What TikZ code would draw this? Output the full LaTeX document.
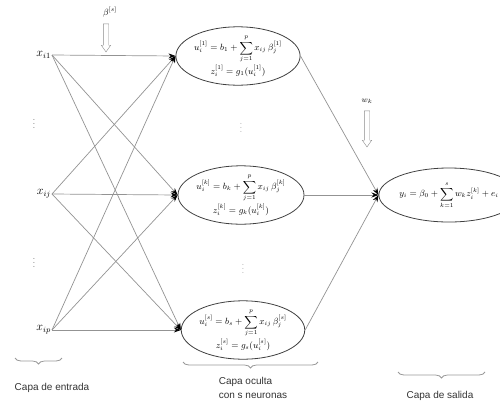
\documentclass[tikz,border=0pt]{standalone}
\usepackage{amsmath}
\usepackage{fontspec}
\newfontfamily\labelfont{Liberation Sans}
\usetikzlibrary{arrows.meta, shapes.geometric, shapes.arrows, decorations.pathreplacing}

\begin{document}
\begin{tikzpicture}[x=1pt, y=-1pt,
	neuron/.style={ellipse, draw=black!75, thick, minimum width=100pt, minimum height=56pt, inner sep=0pt, align=center, font=\small},
	inputlab/.style={anchor=east, inner sep=1pt, font=\large},
	link/.style={gray!85, line width=0.7pt},
	feed/.style={link, -{Stealth[black, length=7pt, width=5pt]}},
	weightarr/.style={single arrow, draw=gray!90, fill=white, shape border rotate=270, single arrow head extend=2pt, single arrow tip angle=70, inner sep=2.5pt, minimum width=9pt},
	layerbrace/.style={decorate, decoration={brace, mirror, amplitude=6pt}, gray!80, thick},
	layerlab/.style={font=\labelfont\fontsize{10}{14}\selectfont, text=black!80}]
		\useasboundingbox (0,0) rectangle (500,402);
		%-------------------------------------------------------------------------------
		% input layer
		%-------------------------------------------------------------------------------
		\node[inputlab] (x1) at (52,55) {$x_{i1}$};
		\node[inputlab] (xj) at (52,194) {$x_{ij}$};
		\node[inputlab] (xp) at (52,330) {$x_{ip}$};
		\node[gray] (d1) at (34,121) {$\vdots$};
		\node[gray] (d2) at (34,260) {$\vdots$};
		
		%-------------------------------------------------------------------------------
		% hidden layer
		%-------------------------------------------------------------------------------
		\node[neuron] (h1) at (238,56) 
			{$u_i^{[1]} = b_1 + \displaystyle\sum_{j=1}^{p} x_{ij}\,\beta_j^{[1]}$\\[1pt]
			 $z_i^{[1]} = g_1(u_i^{[1]})$};
		\node[neuron, minimum width=102pt] (hk) at (241,195) 
			{$u_i^{[k]} = b_k + \displaystyle\sum_{j=1}^{p} x_{ij}\,\beta_j^{[k]}$\\[1pt]
			 $z_i^{[k]} = g_k(u_i^{[k]})$};
		\node[neuron, minimum width=108pt, minimum height=58pt] (hs) at (243,330) 
			{$u_i^{[s]} = b_s + \displaystyle\sum_{j=1}^{p} x_{ij}\,\beta_j^{[s]}$\\[1pt]
			 $z_i^{[s]} = g_s(u_i^{[s]})$};
		\node[gray!60] (d3) at (241,125) {$\vdots$};
		\node[gray!60] (d4) at (243,266) {$\vdots$};
		
		%-------------------------------------------------------------------------------
		% output layer
		%-------------------------------------------------------------------------------
		\node[neuron, minimum width=101pt, minimum height=54pt] (out) at (449,195) 
			{$y_i = \beta_0 + \displaystyle\sum_{k=1}^{s} w_k z_i^{[k]} + e_i$};
		
		% connections
		\foreach \a in {x1,xj,xp}
			\foreach \b in {h1,hk,hs}
				\draw[feed] (\a.east) -- (\b.west);
		\foreach \b in {h1,hk,hs}
			\draw[feed] (\b.east) -- (out.west);
		
		% weights
		\node[weightarr, minimum height=28pt] (betaarr) at (106,36) {};
		\node[font=\small] (betalab) at (110,12) {$\beta^{[s]}$};
		\node[weightarr, minimum height=36pt] (warr) at (367,127) {};
		\node[font=\footnotesize] (wlab) at (367,101) {$w_k$};
		
		% layers
		\draw[layerbrace] (15,358) -- (62,358);
		\draw[layerbrace] (183,362) -- (318,362);
		\draw[layerbrace] (398,372) -- (485,372);
		\node[layerlab] (inlab) at (52,388) {Capa de entrada};
		\node[layerlab, align=left] (hidlab) at (253,388) {Capa oculta\\con s neuronas};
		\node[layerlab] (outlab) at (440,396) {Capa de salida};
\end{tikzpicture}
\end{document}
